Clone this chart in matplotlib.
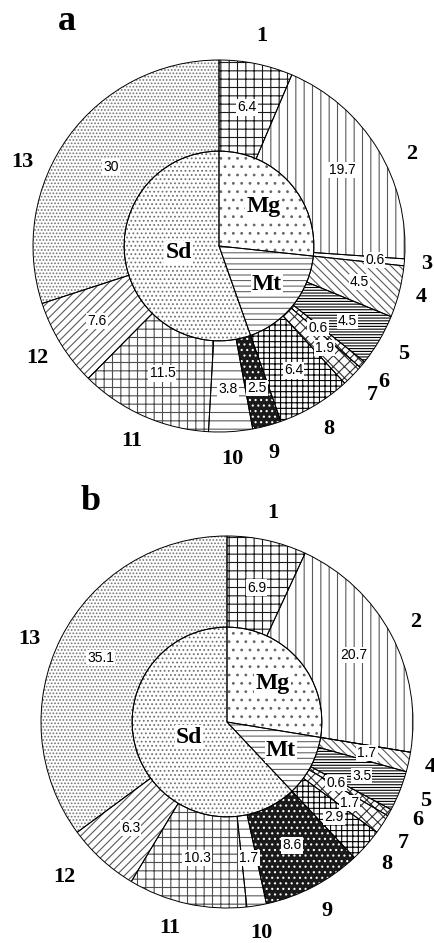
import numpy as np
import matplotlib.pyplot as plt

# outer ring: 13 categories, inner pie: 3 rock groups
cats = ['1', '2', '3', '4', '5', '6', '7', '8', '9', '10', '11', '12', '13']
vals_a = [6.4, 19.7, 0.6, 4.5, 4.5, 0.6, 1.9, 6.4, 2.5, 3.8, 11.5, 7.6, 30]
vals_b = [6.9, 20.7, 0.0, 1.7, 3.5, 0.6, 1.7, 2.9, 8.6, 1.7, 10.3, 6.3, 35.1]
val_text_a = ['6.4', '19.7', '0.6', '4.5', '4.5', '0.6', '1.9', '6.4', '2.5', '3.8', '11.5', '7.6', '30']
val_text_b = ['6.9', '20.7', '', '1.7', '3.5', '0.6', '1.7', '2.9', '8.6', '1.7', '10.3', '6.3', '35.1']
groups = ['Mg', 'Mt', 'Sd']
group_of = [0, 0, 0, 1, 1, 1, 1, 1, 2, 2, 2, 2, 2]

# styling
outer_hatch = ['++', '||', '', '\\\\\\\\', '------', 'xxxx', 'xxx', '+++', '...', '--', '++', '////', '.....']
outer_hcol = ['0.1', '0.35', '0.4', '0.35', '0.0', '0.2', '0.2', '0.0', 'white', '0.35', '0.3', '0.35', '0.45']
outer_face = ['white'] * 8 + ['0.1'] + ['white'] * 4
inner_hatch = ['..', '---', '....']
inner_hcol = ['0.4', '0.4', '0.45']

plt.rcParams['hatch.linewidth'] = 0.8
W, H = 435, 943
R = 186
HOLE = 0.51

fig = plt.figure(figsize=(W / 100, H / 100), dpi=100)
ax = fig.add_axes([0, 0, 1, 1])


def draw_panel(ax, vals, vtext, center, letter, letter_xy, lab_off, lab_r, val_r):
    vals = np.array(vals)
    inner = np.array([vals[np.array(group_of) == g].sum() for g in range(3)])
    ring = R * (1 - HOLE)
    # filled, hatched layer
    wo, _ = ax.pie(vals, radius=R, center=center, startangle=90, counterclock=False,
                   wedgeprops=dict(width=ring, linewidth=0))
    for w, h, hc, fc in zip(wo, outer_hatch, outer_hcol, outer_face):
        w.set_facecolor(fc)
        w.set_edgecolor(hc)
        w.set_hatch(h)
    wi, _ = ax.pie(inner, radius=R * HOLE, center=center, startangle=90, counterclock=False,
                   wedgeprops=dict(linewidth=0))
    for w, h, hc in zip(wi, inner_hatch, inner_hcol):
        w.set_facecolor('white')
        w.set_edgecolor(hc)
        w.set_hatch(h)
    # outlines
    ax.pie(vals, radius=R, center=center, startangle=90, counterclock=False,
           wedgeprops=dict(width=ring, fill=False, edgecolor='black', linewidth=0.7))
    ax.pie(inner, radius=R * HOLE, center=center, startangle=90, counterclock=False,
           wedgeprops=dict(fill=False, edgecolor='black', linewidth=0.7))

    cx, cy = center
    cum = np.cumsum(vals) - vals / 2
    mids = 90 - 360 * cum / vals.sum()
    for i, (c, t, m) in enumerate(zip(cats, vtext, mids)):
        if vals[i] == 0:
            continue
        a = np.radians(m + lab_off[i])
        rr = R * lab_r[i]
        ax.text(cx + rr * np.cos(a), cy + rr * np.sin(a), c, ha='center', va='center',
                fontsize=16, fontweight='bold', family='Liberation Serif')
        a = np.radians(m)
        rr = R * val_r[i]
        ax.text(cx + rr * np.cos(a), cy + rr * np.sin(a), t, ha='center', va='center',
                fontsize=10, family='Liberation Sans',
                bbox=dict(boxstyle='square,pad=0.08', fc='white', ec='none'))
    icum = np.cumsum(inner) - inner / 2
    imids = 90 - 360 * icum / inner.sum()
    for g, m, rr in zip(groups, imids, [0.32, 0.33, 0.22]):
        a = np.radians(m)
        ax.text(cx + R * rr * np.cos(a), cy + R * rr * np.sin(a), g, ha='center', va='center',
                fontsize=17, fontweight='bold', family='Liberation Serif',
                bbox=dict(boxstyle='square,pad=0.05', fc='white', ec='none'))
    ax.text(letter_xy[0], letter_xy[1], letter, ha='center', va='center',
            fontsize=26, fontweight='bold', family='Liberation Serif')


off_a = [0, -6, 0, 0, 0, 0, 0, 0, 0, 0, 0, 0, 13]
lr_a = [1.15, 1.15, 1.12, 1.12] + [1.15] * 9
vr_a = [0.76, 0.78, 0.84, 0.78, 0.8, 0.69, 0.79, 0.78, 0.79, 0.77, 0.75, 0.77, 0.72]
off_b = [0, 0, 0, 0, 0, 2, -1, 0, 0, 0, -3, -4, 4]
lr_b = [1.15, 1.15, 1.15, 1.12] + [1.15] * 7 + [1.21, 1.15]
vr_b = [0.74, 0.77, 0.77, 0.77, 0.78, 0.67, 0.79, 0.77, 0.75, 0.74, 0.75, 0.77, 0.76]

draw_panel(ax, vals_a, val_text_a, (219, H - 246), 'a', (67, H - 22), off_a, lr_a, vr_a)
draw_panel(ax, vals_b, val_text_b, (227, H - 722), 'b', (91, H - 502), off_b, lr_b, vr_b)

ax.set_xlim(0, W)
ax.set_ylim(0, H)
ax.set_aspect('equal')
ax.axis('off')
fig.savefig('out.png', dpi=100, facecolor='white')
